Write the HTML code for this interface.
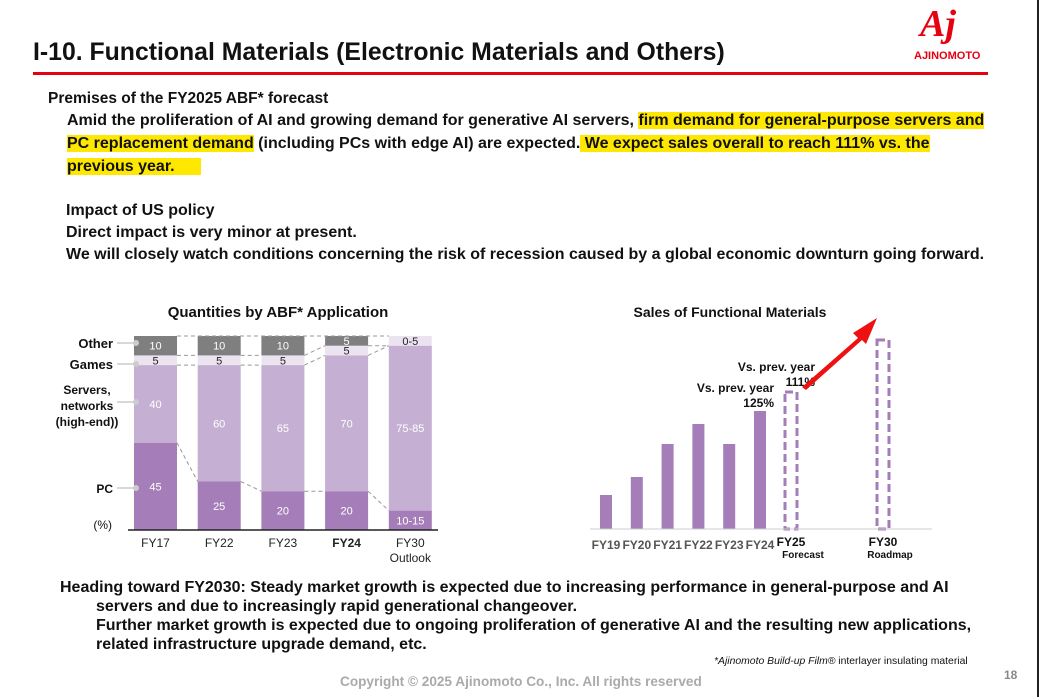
<!DOCTYPE html>
<html><head><meta charset="utf-8">
<style>
body{margin:0;width:1041px;height:697px;background:#fff;font-family:"Liberation Sans",Arial,sans-serif;position:relative;overflow:hidden}
.t{position:absolute;white-space:nowrap;color:#111;font-weight:bold}
.hl{background:#ffe800}
</style></head><body>
<div style="position:absolute;left:1037px;top:0;width:2px;height:697px;background:#222"></div>
<div class="t" style="left:33px;top:39px;font-size:24.8px">I-10. Functional Materials (Electronic Materials and Others)</div>
<div style="position:absolute;left:33px;top:72px;width:955px;height:3px;background:#e60012"></div>
<div class="t" style="left:920px;top:2px;font-size:38px;color:#e60012;font-style:italic;font-family:'Liberation Serif',serif">Aj</div>
<div class="t" style="left:914px;top:50px;font-size:11px;color:#e60012">AJINOMOTO</div>

<div class="t" style="left:48px;top:90px;font-size:15.5px">Premises of the FY2025 ABF* forecast</div>
<div class="t" style="left:67px;top:112px;font-size:16px">Amid the proliferation of AI and growing demand for generative AI servers, <span class="hl">firm demand for general-purpose servers and</span></div>
<div class="t" style="left:67px;top:135px;font-size:16px"><span class="hl">PC replacement demand</span> (including PCs with edge AI) are expected.<span class="hl"> We expect sales overall to reach 111% vs. the</span></div>
<div class="t" style="left:67px;top:158px;font-size:16px"><span class="hl">previous year.&nbsp;&nbsp;&nbsp;&nbsp;&nbsp;&nbsp;</span></div>
<div class="t" style="left:66px;top:202px;font-size:16px">Impact of US policy</div>
<div class="t" style="left:66px;top:224px;font-size:16px">Direct impact is very minor at present.</div>
<div class="t" style="left:66px;top:246px;font-size:16px">We will closely watch conditions concerning the risk of recession caused by a global economic downturn going forward.</div>

<svg id="c1" width="1041" height="697" style="position:absolute;left:0;top:0" font-family="Liberation Sans,Arial,sans-serif"></svg>

<div class="t" style="left:60px;top:579px;font-size:16px">Heading toward FY2030: Steady market growth is expected due to increasing performance in general-purpose and AI</div>
<div class="t" style="left:96px;top:598px;font-size:16px">servers and due to increasingly rapid generational changeover.</div>
<div class="t" style="left:96px;top:617px;font-size:16px">Further market growth is expected due to ongoing proliferation of generative AI and the resulting new applications,</div>
<div class="t" style="left:96px;top:636px;font-size:16px">related infrastructure upgrade demand, etc.</div>
<div class="t" style="left:714px;top:656px;font-size:10.4px;font-weight:normal"><i>*Ajinomoto Build-up Film®</i> interlayer insulating material</div>
<div class="t" style="left:340px;top:674px;font-size:13.6px;color:#aaa">Copyright © 2025 Ajinomoto Co., Inc. All rights reserved</div>
<div class="t" style="left:1004px;top:668px;font-size:12px;color:#888">18</div>

<script>
// Left chart data
const catsL=["FY17","FY22","FY23","FY24","FY30"];
const pcVals=[45,25,20,20,10];
const srvVals=[40,60,65,70,85];
const gameVals=[5,5,5,5,0];
const otherVals=[10,10,10,5,5];
const pcLabels=["45","25","20","20","10-15"];
const srvLabels=["40","60","65","70","75-85"];
const gameLabels=["5","5","5","5",""];
const otherLabels=["10","10","10","5","0-5"];
// Right chart data
const catsR=["FY19","FY20","FY21","FY22","FY23","FY24"];
const salesVals=[34,52,85,105,85,118];
const dashCats=["FY25","FY30"];
const dashVals=[137,189];

const NS="http://www.w3.org/2000/svg";
const svg=document.getElementById('c1');
function mk(tag,attrs,parent){const e=document.createElementNS(NS,tag);for(const k in attrs)e.setAttribute(k,attrs[k]);(parent||svg).appendChild(e);return e;}
function txt(x,y,s,size,fill,weight,anchor,name){const e=mk('text',{x:x,y:y,'font-size':size,fill:fill,'font-weight':weight||'normal','text-anchor':anchor||'middle'});e.textContent=s;return e;}

// ---- left chart
txt(278,317,"Quantities by ABF* Application",15,"#111","bold","middle","left-chart-title");
const top0=336,base0=530,hL=194;
const yL=v=>base0-v/100*hL;
const xL=i=>134+i*63.7, bw=43;
const cols={pc:"#a57db8",srv:"#c5afd2",game:"#ece3f1",other:"#7f7f7f"};
const segs=[];
catsL.forEach((c,i)=>{
  let acc=0;const bounds=[];
  [[pcVals,cols.pc,pcLabels,"#fff","pc"],[srvVals,cols.srv,srvLabels,"#fff","servers"],[gameVals,cols.game,gameLabels,"#222","games"],[otherVals,cols.other,otherLabels,"#fff","other"]].forEach(([arr,col,lab,tc,nm],k)=>{
    const v=arr[i];const y1=yL(acc),y2=yL(acc+v);
    if(v>0){const r=mk('rect',{x:xL(i),y:y2,width:bw,height:y1-y2,fill:(i==4&&nm=="other")?cols.game:col});
      
      let t=lab[i];let fc=(i==4&&nm=="other")?"#222":tc;
      if(t)txt(xL(i)+bw/2,(y1+y2)/2+4,t,11,fc,"normal","middle","label-"+nm+"-"+c);}
    acc+=v;bounds.push(yL(acc));
  });
  segs.push(bounds);
  txt(xL(i)+bw/2,547,c,12,"#222",c=="FY24"?"bold":"normal","middle","x-tick-"+c);
});
txt(xL(4)+bw/2,562,"Outlook",12,"#222","normal","middle","x-tick-outlook");
for(let i=0;i<4;i++){for(let k=0;k<3;k++){
  const l=mk('line',{x1:xL(i)+bw,y1:segs[i][k],x2:xL(i+1),y2:segs[i+1][k],stroke:"#999","stroke-dasharray":"4,3","stroke-width":1});
  }}
mk('line',{x1:xL(0)+bw,y1:top0,x2:xL(4),y2:top0,stroke:"#999","stroke-dasharray":"4,3"});
const ax=mk('line',{x1:128,y1:base0,x2:438,y2:base0,stroke:"#222","stroke-width":1.5});

txt(113,348,"Other",13,"#111","bold","end","legend-other");
txt(113,369,"Games",13,"#111","bold","end","legend-games");
txt(87,394,"Servers,",12,"#111","bold","middle","legend-servers");
txt(87,410,"networks",12,"#111","bold","middle","legend-servers");
txt(87,426,"(high-end))",12,"#111","bold","middle","legend-servers");
txt(113,493,"PC",12,"#111","bold","end","legend-pc");
txt(112,529,"(%)",12,"#111","normal","end","unit-label");
[[343],[364],[402],[488]].forEach(([y])=>{mk('line',{x1:117,y1:y,x2:135,y2:y,stroke:"#ccc","stroke-width":1.5});mk('circle',{cx:136,cy:y,r:3,fill:"#ccc"});});

// ---- right chart
txt(730,317,"Sales of Functional Materials",14,"#111","bold","middle","right-chart-title");
const baseR=529;
const yR=v=>baseR-v;
const xR=i=>600+i*30.8;
catsR.forEach((c,i)=>{
  const r=mk('rect',{x:xR(i),y:yR(salesVals[i]),width:12,height:salesVals[i],fill:"#a57db8"});
  
  txt(xR(i)+6,549,c,12,"#555","bold","middle","x-tick-"+c);
});
const dxs=[785,877];
dashCats.forEach((c,i)=>{
  const r=mk('rect',{x:dxs[i],y:yR(dashVals[i]),width:12,height:dashVals[i],fill:"none",stroke:"#a57db8","stroke-width":3,"stroke-dasharray":"8,4"});
  
  txt(dxs[i]+6,546,c,12,"#111","bold","middle","x-tick-"+c);
});
txt(803,558,"Forecast",10,"#111","bold","middle","x-sub-forecast");
txt(890,558,"Roadmap",10,"#111","bold","middle","x-sub-roadmap");
const axr=mk('line',{x1:590,y1:baseR,x2:932,y2:baseR,stroke:"#ccc","stroke-width":1});

txt(774,392,"Vs. prev. year",12,"#111","bold","end","annotation-fy24-label");
txt(774,407,"125%",12,"#111","bold","end","annotation-fy24-value");
txt(815,371,"Vs. prev. year",12,"#111","bold","end","annotation-fy25-label");
txt(815,386,"111%",12,"#111","bold","end","annotation-fy25-value");
const ar=mk('path',{d:"M802,387 L858,338 L853,333 L877,318 L866,344 L862,340 L806,390 Z",fill:"#ee1111"});

</script>
</body></html>
